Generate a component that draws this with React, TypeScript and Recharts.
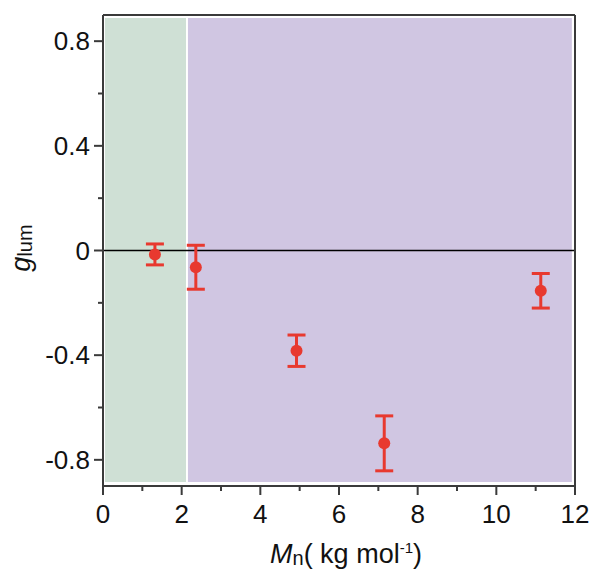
import { ComposedChart, Scatter, ErrorBar, XAxis, YAxis, ReferenceArea, ReferenceLine } from 'recharts';

// Mn (kg/mol) vs g_lum with error bars
const mnValues = [1.32, 2.36, 4.92, 7.15, 11.13];
const glumValues = [-0.015, -0.064, -0.383, -0.737, -0.154];
const glumErrors = [0.04, 0.084, 0.06, 0.105, 0.066];

const xTicks = [0, 1, 2, 3, 4, 5, 6, 7, 8, 9, 10, 11, 12];
const xLabelTicks = [0, 2, 4, 6, 8, 10, 12];
const yTicks = [-0.8, -0.6, -0.4, -0.2, 0, 0.2, 0.4, 0.6, 0.8];
const yLabelTicks = [-0.8, -0.4, 0, 0.4, 0.8];

const data = mnValues.map((mn, i) => ({ mn, glum: glumValues[i], err: glumErrors[i] }));

const FONT = '"Liberation Sans", Arial, Helvetica, sans-serif';
const AXIS = '#3a3a3a';
const RED = '#e8392f';

const XTick = ({ x, y, payload }: any) => {
  const major = xLabelTicks.includes(payload.value);
  return (
    <g>
      <line x1={x} x2={x} y1={y} y2={y + (major ? 9 : 5)} stroke={AXIS} strokeWidth={2} />
      {major && (
        <text x={x} y={y + 37} textAnchor="middle" fontSize={26} fill="#111" fontFamily={FONT}>
          {payload.value}
        </text>
      )}
    </g>
  );
};

const YTick = ({ x, y, payload }: any) => {
  const major = yLabelTicks.some(v => Math.abs(v - payload.value) < 1e-9);
  return (
    <g>
      <line x1={x} x2={x - (major ? 9 : 5)} y1={y} y2={y} stroke={AXIS} strokeWidth={2} />
      {major && (
        <text x={x - 13} y={y + 9} textAnchor="end" fontSize={26} fill="#111" fontFamily={FONT}>
          {payload.value === 0 ? '0' : payload.value.toFixed(1)}
        </text>
      )}
    </g>
  );
};

const Dot = (props: any) => <circle cx={props.cx} cy={props.cy} r={6} fill={RED} />;

const XTitle = () => (
  <text x={346} y={563} textAnchor="middle" fontSize={27} fill="#111" fontFamily={FONT}>
    <tspan fontStyle="italic">M</tspan>
    <tspan fontSize={20} dy={2}>n</tspan>
    <tspan dy={-2}>( kg mol</tspan>
    <tspan fontSize={15} dy={-10}>-1</tspan>
    <tspan dy={10}>)</tspan>
  </text>
);

const YTitle = () => (
  <text x={30} y={248} transform="rotate(-90, 30, 248)" textAnchor="middle" fontSize={27} fill="#111" fontFamily={FONT}>
    <tspan fontStyle="italic">g</tspan>
    <tspan fontSize={20} dy={2}>lum</tspan>
  </text>
);

export default function App() {
  return (
    <div style={{ position: 'absolute', left: 0, top: 0, background: '#fff' }}>
      <ComposedChart width={594} height={569} data={data} margin={{ top: 15, right: 19, left: 0, bottom: 0 }}>
        <ReferenceArea x1={0.05} x2={2.11} y1={-0.885} y2={0.889} fill="#cfe0d5" fillOpacity={1} stroke="none" />
        <ReferenceArea x1={2.16} x2={11.92} y1={-0.885} y2={0.889} fill="#d0c6e2" fillOpacity={1} stroke="none" />
        <ReferenceLine y={0} stroke="#000" strokeWidth={1.5} />
        <ReferenceLine y={0.9} stroke={AXIS} strokeWidth={2} />
        <ReferenceLine x={12} stroke={AXIS} strokeWidth={2} />
        <XAxis
          type="number"
          dataKey="mn"
          domain={[0, 12]}
          ticks={xTicks}
          interval={0}
          height={83}
          tickSize={0}
          tickMargin={0}
          tickLine={false}
          axisLine={{ stroke: AXIS, strokeWidth: 2 }}
          tick={<XTick />}
          allowDataOverflow
          label={() => <XTitle />}
        />
        <YAxis
          type="number"
          dataKey="glum"
          domain={[-0.9, 0.9]}
          ticks={yTicks}
          interval={0}
          width={103}
          tickSize={0}
          tickMargin={0}
          tickLine={false}
          axisLine={{ stroke: AXIS, strokeWidth: 2 }}
          tick={<YTick />}
          allowDataOverflow
          label={() => <YTitle />}
        />
        <Scatter dataKey="glum" fill={RED} shape={<Dot />} isAnimationActive={false}>
          <ErrorBar dataKey="err" direction="y" width={9} stroke={RED} strokeWidth={3} isAnimationActive={false} />
        </Scatter>
      </ComposedChart>
    </div>
  );
}
